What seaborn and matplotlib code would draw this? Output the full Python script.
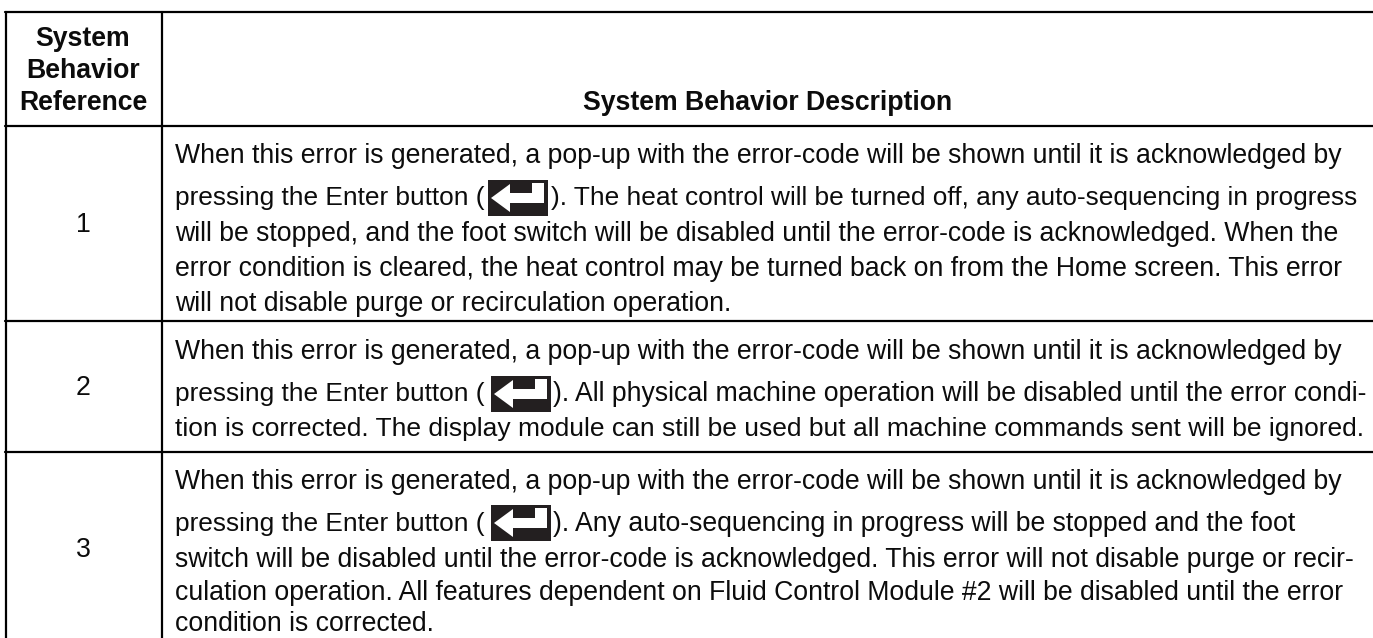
import matplotlib
matplotlib.use("Agg")
import matplotlib.pyplot as plt
import seaborn as sns
from matplotlib.patches import Polygon, Rectangle

# ======================================================
# 1. TABLE CONTENT
# ======================================================
ref_header = ["System", "Behavior", "Reference"]
desc_header = "System Behavior Description"
row_refs = ["1", "2", "3"]

first_line = "When this error is generated, a pop-up with the error-code will be shown until it is acknowledged by"
press_line = "pressing the Enter button ("

row1_after_icon = "). The heat control will be turned off, any auto-sequencing in progress"
row1_rest = [
    "will be stopped, and the foot switch will be disabled until the error-code is acknowledged. When the",
    "error condition is cleared, the heat control may be turned back on from the Home screen. This error",
    "will not disable purge or recirculation operation.",
]
row2_after_icon = "). All physical machine operation will be disabled until the error condi-"
row2_rest = [
    "tion is corrected. The display module can still be used but all machine commands sent will be ignored.",
]
row3_after_icon = "). Any auto-sequencing in progress will be stopped and the foot"
row3_rest = [
    "switch will be disabled until the error-code is acknowledged. This error will not disable purge or recir-",
    "culation operation. All features dependent on Fluid Control Module #2 will be disabled until the error",
    "condition is corrected.",
]

# ======================================================
# 2. LAYOUT (pixels)
# ======================================================
W, H = 1373, 638
COL_X = [5.5, 161.5]
ROW_Y = [12, 126, 321, 452]
TEXT_X = 175
FS = 19.2
# a few lines are set tighter or looser in the original
TIGHT = {press_line: 18.95, row1_after_icon: 18.93, row2_rest[0]: 19.0, row3_after_icon: 19.2}

sns.set_theme(style="white")
plt.rcParams['font.family'] = ['Liberation Sans', 'DejaVu Sans']

fig = plt.figure(figsize=(W / 100, H / 100), dpi=100)
ax = fig.add_axes([0, 0, 1, 1])

for y in ROW_Y:
    sns.lineplot(x=[COL_X[0] - 1, W], y=[y, y], color='black', linewidth=1.6,
                 ax=ax, estimator=None, sort=False)
for x in COL_X:
    sns.lineplot(x=[x, x], y=[ROW_Y[0], H], color='black', linewidth=1.6,
                 ax=ax, estimator=None, sort=False)

ax.set_xlim(0, W)
ax.set_ylim(H, 0)
ax.set_xlabel("")
ax.set_ylabel("")
ax.axis('off')


def put(x, y, s, **kw):
    ax.text(x, y + 1, s, fontsize=TIGHT.get(s, FS), color='#0c0c0c', va='baseline', **kw)


def enter_icon(x, y):
    # black key with the white return arrow, 60 x 36 px
    ax.add_patch(Rectangle((x, y), 60, 36, color='#231f20', lw=0))
    arrow = [(3, 18), (22, 4), (22, 13), (44, 13), (44, 3), (56, 3), (56, 23),
             (22, 23), (22, 32)]
    ax.add_patch(Polygon([(x + a, y + b) for a, b in arrow], color='white', lw=0))


# header
for line, y in zip(ref_header, [45, 77, 109]):
    put(83, y, line, ha='center', fontweight='bold')
put(768, 109, desc_header, ha='center', fontweight='bold')

# reference column
for ref, y in zip(row_refs, [231, 394, 556]):
    put(83, y, ref, ha='center')

# description column
rows = [
    (162, 204, 180, 488, 551, row1_after_icon, row1_rest, [240, 275, 310]),
    (358, 400, 376, 491, 553, row2_after_icon, row2_rest, [435]),
    (488, 530, 505, 491, 553, row3_after_icon, row3_rest, [566, 599, 630]),
]
for y_first, y_press, y_icon, x_icon, x_after, after, rest, rest_y in rows:
    put(TEXT_X, y_first, first_line)
    put(TEXT_X, y_press, press_line)
    enter_icon(x_icon, y_icon)
    put(x_after, y_press, after)
    for line, y in zip(rest, rest_y):
        put(TEXT_X, y, line)

fig.savefig("out.png", dpi=100)
